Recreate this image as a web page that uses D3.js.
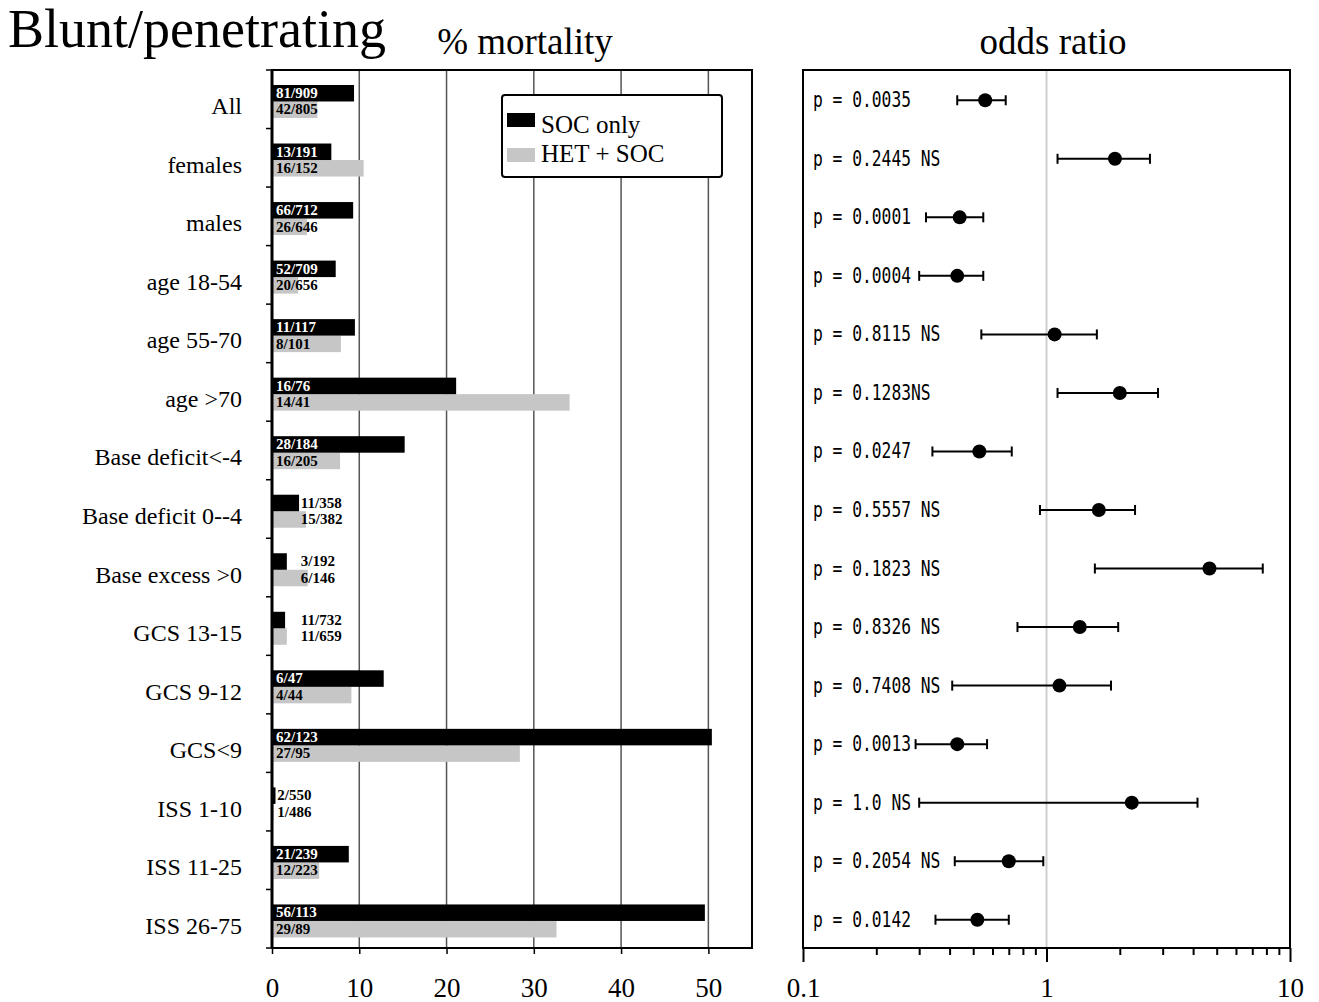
<!DOCTYPE html>
<html>
<head>
<meta charset="utf-8">
<script src="https://cdn.jsdelivr.net/npm/d3@7/dist/d3.min.js"></script>
<style>
body { margin: 0; background: #fff; }
</style>
</head>
<body>
<div class="chart"></div>
<script>
var categories = ['All', 'females', 'males', 'age 18-54', 'age 55-70', 'age >70',
	'Base deficit<-4', 'Base deficit 0--4', 'Base excess >0', 'GCS 13-15', 'GCS 9-12',
	'GCS<9', 'ISS 1-10', 'ISS 11-25', 'ISS 26-75'];
var series = ['SOC only', 'HET + SOC'];

// % mortality
var socOnly = [9.4, 6.8, 9.3, 7.3, 9.5, 21.1, 15.2, 3.1, 1.7, 1.5, 12.8, 50.4, 0.4, 8.8, 49.6];
var hetSoc = [5.2, 10.5, 4.0, 3.0, 7.9, 34.1, 7.8, 3.9, 4.1, 1.7, 9.1, 28.4, 0.2, 5.4, 32.6];
var socCounts = ['81/909', '13/191', '66/712', '52/709', '11/117', '16/76', '28/184', '11/358',
	'3/192', '11/732', '6/47', '62/123', '2/550', '21/239', '56/113'];
var hetCounts = ['42/805', '16/152', '26/646', '20/656', '8/101', '14/41', '16/205', '15/382',
	'6/146', '11/659', '4/44', '27/95', '1/486', '12/223', '29/89'];

// odds ratio with confidence interval
var oddsRatio = [0.56, 1.91, 0.44, 0.43, 1.08, 2.00, 0.53, 1.64, 4.67, 1.37, 1.13, 0.43, 2.24, 0.70, 0.52];
var ciLow = [0.43, 1.11, 0.32, 0.30, 0.54, 1.11, 0.34, 0.94, 1.58, 0.76, 0.41, 0.29, 0.30, 0.42, 0.35];
var ciHigh = [0.68, 2.66, 0.55, 0.55, 1.61, 2.87, 0.72, 2.31, 7.73, 1.97, 1.84, 0.57, 4.17, 0.97, 0.70];
var pValues = ['p = 0.0035', 'p = 0.2445 NS', 'p = 0.0001', 'p = 0.0004', 'p = 0.8115 NS',
	'p = 0.1283NS', 'p = 0.0247', 'p = 0.5557 NS', 'p = 0.1823 NS', 'p = 0.8326 NS',
	'p = 0.7408 NS', 'p = 0.0013', 'p = 1.0 NS', 'p = 0.2054 NS', 'p = 0.0142'];

var pctTicks = [0, 10, 20, 30, 40, 50];
var orTicks = [0.1, 1, 10];
var orMinor = [0.2, 0.3, 0.4, 0.5, 0.6, 0.7, 0.8, 0.9, 2, 3, 4, 5, 6, 7, 8, 9];

var width = 1319, height = 1002;
var serif = '"Liberation Serif", "Times New Roman", serif';
var top_y = 70, bottom_y = 948;

var svg = d3.select('.chart').append('svg')
	.attr('width', width)
	.attr('height', height);

// shared row scale
var y = d3.scaleBand().domain(categories).range([top_y, bottom_y]);
var bw = y.bandwidth();
var ySub = d3.scaleBand().domain(series).range([bw * 0.256, bw * 0.82]);

// titles
function print(x, yy, s, fs, anchor) {
	svg.append('text')
		.attr('x', x)
		.attr('y', yy)
		.attr('font-family', serif)
		.attr('font-size', fs)
		.attr('text-anchor', anchor)
		.text(s);
}
print(8, 47, 'Blunt/penetrating', 54, 'start');
print(525, 54, '% mortality', 37, 'middle');
print(1053, 54, 'odds ratio', 37, 'middle');

// ---------- left panel: bars ----------
var x = d3.scaleLinear().domain([0, 55]).range([272, 752]);
var left = svg.append('g').attr('class', 'left');

left.selectAll('.grid')
	.data(pctTicks.slice(1))
	.enter().append('line')
	.attr('x1', d => x(d)).attr('x2', d => x(d))
	.attr('y1', top_y).attr('y2', bottom_y)
	.attr('stroke', '#555')
	.attr('stroke-width', 1.5);

var rows = left.selectAll('.row')
	.data(categories)
	.enter().append('g')
	.attr('transform', d => 'translate(0,' + y(d) + ')');

rows.append('rect')
	.attr('x', x(0))
	.attr('y', ySub('HET + SOC'))
	.attr('width', (d, i) => x(hetSoc[i]) - x(0))
	.attr('height', ySub.bandwidth())
	.attr('fill', '#c6c6c6');

rows.append('rect')
	.attr('x', x(0))
	.attr('y', ySub('SOC only'))
	.attr('width', (d, i) => x(socOnly[i]) - x(0))
	.attr('height', ySub.bandwidth())
	.attr('fill', '#000');

function labelX(i) {
	if (socOnly[i] < 1) return x(0.6);
	if (socOnly[i] < 4) return x(3.3);
	return x(0) + 4;
}

rows.append('text')
	.attr('x', (d, i) => labelX(i))
	.attr('y', ySub('SOC only') + ySub.bandwidth() - 3.5)
	.attr('font-family', serif)
	.attr('font-weight', 'bold')
	.attr('font-size', 15)
	.attr('fill', (d, i) => socOnly[i] < 4 ? '#000' : '#fff')
	.text((d, i) => socCounts[i]);

rows.append('text')
	.attr('x', (d, i) => labelX(i))
	.attr('y', ySub('HET + SOC') + ySub.bandwidth() - 3.5)
	.attr('font-family', serif)
	.attr('font-weight', 'bold')
	.attr('font-size', 15)
	.attr('fill', '#000')
	.text((d, i) => hetCounts[i]);

// category names
rows.append('text')
	.attr('x', 242)
	.attr('y', bw / 2 + 15)
	.attr('font-family', serif)
	.attr('font-size', 24)
	.attr('text-anchor', 'end')
	.text(d => d);

// left ticks at row boundaries
left.selectAll('.ytick')
	.data(d3.range(categories.length + 1))
	.enter().append('line')
	.attr('x1', x(0) - 6).attr('x2', x(0))
	.attr('y1', i => top_y + i * bw).attr('y2', i => top_y + i * bw)
	.attr('stroke', '#000')
	.attr('stroke-width', 1.5);

// legend
var legend = left.append('g');
legend.append('rect')
	.attr('x', 502).attr('y', 95)
	.attr('width', 220).attr('height', 82)
	.attr('rx', 3)
	.attr('fill', '#fff')
	.attr('stroke', '#000')
	.attr('stroke-width', 2);
legend.selectAll('.sw')
	.data(series)
	.enter().append('rect')
	.attr('x', 507)
	.attr('y', (d, i) => 113 + i * 35)
	.attr('width', 28).attr('height', 14)
	.attr('fill', (d, i) => i === 0 ? '#000' : '#c6c6c6');
legend.selectAll('.lt')
	.data(series)
	.enter().append('text')
	.attr('x', 541)
	.attr('y', (d, i) => 133 + i * 29)
	.attr('font-family', serif)
	.attr('font-size', 25)
	.text(d => d);

// frame
left.append('rect')
	.attr('x', x(0)).attr('y', top_y)
	.attr('width', x(55) - x(0)).attr('height', bottom_y - top_y)
	.attr('fill', 'none')
	.attr('stroke', '#000')
	.attr('stroke-width', 2);
left.append('line')
	.attr('x1', x(0)).attr('x2', x(0))
	.attr('y1', top_y).attr('y2', bottom_y)
	.attr('stroke', '#000')
	.attr('stroke-width', 3);

var xAxis = left.append('g')
	.attr('transform', 'translate(0,' + bottom_y + ')')
	.call(d3.axisBottom(x).tickValues(pctTicks).tickSize(6).tickPadding(24));
xAxis.select('.domain').remove();
xAxis.selectAll('line').attr('stroke-width', 1.5);
xAxis.selectAll('text')
	.attr('font-family', serif)
	.attr('font-size', 27)
	.attr('fill', '#000');

// ---------- right panel: odds ratios ----------
var xr = d3.scaleLog().domain([0.1, 10]).range([803, 1290]);
var right = svg.append('g').attr('class', 'right');

right.append('line')
	.attr('x1', xr(1)).attr('x2', xr(1))
	.attr('y1', top_y).attr('y2', bottom_y)
	.attr('stroke', '#cfcfcf')
	.attr('stroke-width', 2);

var orRows = right.selectAll('.orrow')
	.data(categories)
	.enter().append('g')
	.attr('transform', d => 'translate(0,' + (y(d) + bw / 2 + 1) + ')');

orRows.append('line')
	.attr('x1', (d, i) => xr(ciLow[i]))
	.attr('x2', (d, i) => xr(ciHigh[i]))
	.attr('stroke', '#000')
	.attr('stroke-width', 2);
orRows.append('line')
	.attr('x1', (d, i) => xr(ciLow[i])).attr('x2', (d, i) => xr(ciLow[i]))
	.attr('y1', -5).attr('y2', 5)
	.attr('stroke', '#000').attr('stroke-width', 2);
orRows.append('line')
	.attr('x1', (d, i) => xr(ciHigh[i])).attr('x2', (d, i) => xr(ciHigh[i]))
	.attr('y1', -5).attr('y2', 5)
	.attr('stroke', '#000').attr('stroke-width', 2);
orRows.append('circle')
	.attr('cx', (d, i) => xr(oddsRatio[i]))
	.attr('r', 7)
	.attr('fill', '#000');

orRows.append('text')
	.attr('x', 813)
	.attr('y', 7)
	.attr('font-family', '"DejaVu Sans Mono", monospace')
	.attr('font-size', 22)
	.attr('textLength', (d, i) => pValues[i].length * 9.8)
	.attr('lengthAdjust', 'spacingAndGlyphs')
	.text((d, i) => pValues[i]);

right.append('rect')
	.attr('x', xr(0.1)).attr('y', top_y)
	.attr('width', xr(10) - xr(0.1)).attr('height', bottom_y - top_y)
	.attr('fill', 'none')
	.attr('stroke', '#000')
	.attr('stroke-width', 2);

var minorAxis = right.append('g')
	.attr('transform', 'translate(0,' + bottom_y + ')')
	.call(d3.axisBottom(xr).tickValues(orMinor).tickSize(7).tickFormat(''));
minorAxis.select('.domain').remove();
minorAxis.selectAll('line').attr('stroke-width', 2);

var orAxis = right.append('g')
	.attr('transform', 'translate(0,' + bottom_y + ')')
	.call(d3.axisBottom(xr).tickValues(orTicks).tickSize(14).tickPadding(16).tickFormat(d => d));
orAxis.select('.domain').remove();
orAxis.selectAll('line').attr('stroke-width', 2);
orAxis.selectAll('text')
	.attr('font-family', serif)
	.attr('font-size', 27)
	.attr('fill', '#000');
</script>
</body>
</html>
